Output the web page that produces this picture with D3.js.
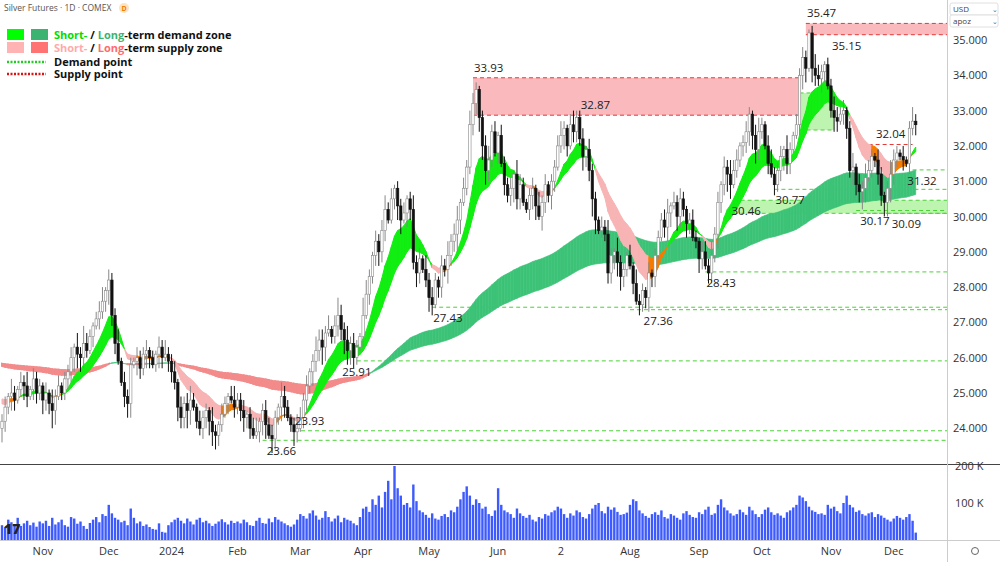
<!DOCTYPE html>
<html><head><meta charset="utf-8">
<script src="https://cdn.jsdelivr.net/npm/d3@7"></script>
<style>body{margin:0;background:#fff;font-family:"Open Sans",Roboto,sans-serif}</style>
</head><body><div id="chart"></div>
<script>
const width = 1000, height = 562;

// Month labels and daily closes per month (Oct 2023 - Dec 2024)
const monthLabels = ["", "Nov", "Dec", "2024", "Feb", "Mar", "Apr", "May", "Jun", "2", "Aug", "Sep", "Oct", "Nov", "Dec"];
const closes = [
  [24.2,24.6,24.9,25.0,24.8,25.1,25.3,25.2,24.9,25.1,25.4,25.0,25.2],
  [24.8,25.0,24.7,24.5,24.9,25.2,25.0,25.4,25.6,26.0,26.3,26.1,26.0,26.4,26.2,26.6,26.9,27.1,27.3,27.6,27.9],
  [28.2,27.2,26.4,25.9,25.3,24.9,24.7,25.8,25.9,26.0,25.7,26.1,26.2,26.0,25.8,26.1,26.3,26.0,26.1,25.9],
  [25.6,25.3,24.6,24.3,24.7,24.5,24.8,24.6,24.2,24.0,24.3,24.5,24.2,23.9,23.8,24.1,24.4,24.7,24.9,24.8,24.6],
  [24.8,24.5,24.3,24.4,24.0,23.8,23.9,24.2,24.5,24.1,23.8,23.7,24.3,24.6,24.9,24.6,24.3,24.1,23.9,24.0],
  [24.3,24.8,25.2,25.6,25.9,26.2,26.5,26.3,26.7,26.8,26.6,26.9,27.2,26.8,26.5,26.2,26.4,26.0,26.3,26.6],
  [27.2,27.8,28.3,28.9,29.3,29.0,29.6,30.2,29.9,30.5,30.8,30.3,29.9,30.1,30.5,30.2,28.7,28.4,28.8,28.5,28.2],
  [27.7,27.5,28.2,28.0,28.6,28.5,28.9,29.3,29.5,29.9,30.4,30.8,31.4,32.6,33.2,33.6,32.8,32.0,31.3,31.6,32.4,31.8],
  [32.3,31.5,30.9,30.6,30.8,31.2,30.5,30.9,30.4,30.2,30.6,30.8,30.3,30.0,30.4,30.9,30.6,31.0,31.4,32.0],
  [32.3,32.5,32.0,32.6,32.4,32.8,32.2,31.7,31.9,31.3,30.5,29.9,29.6,29.7,29.5,28.4,28.9,29.0,28.7,28.3,28.5,28.9],
  [28.6,28.1,27.6,27.5,27.9,27.7,28.4,28.3,28.9,29.4,29.9,29.7,30.1,30.3,30.4,30.0,30.5,30.2,29.8,29.9,29.4,29.3],
  [28.8,29.0,28.6,28.4,28.9,29.5,30.4,30.9,31.4,31.2,30.9,31.3,31.6,32.0,32.1,32.4,32.9,32.3,31.9,32.4],
  [32.6,32.0,31.5,31.2,30.9,31.3,31.7,31.9,31.5,31.9,32.3,32.6,34.0,34.5,34.2,35.2,34.2,34.0,33.9,34.1,34.3,33.7],
  [33.0,32.8,32.7,32.9,33.0,32.5,31.3,31.4,30.9,30.7,30.8,31.1,31.3,31.7,31.6,31.2,30.6,30.4,30.8,31.2],
  [31.6,31.8,31.7,31.6,31.5,32.5,32.7,32.6]
];
// Volume in thousands per month
const volumes = [
  [40,35,55,48,42,60,38,45,52,40,47,36,50],
  [45,52,38,60,42,48,55,40,36,62,58,44,50,38,30,46,55,62,48,70,65],
  [95,72,60,55,48,52,40,85,60,45,50,38,42,35,30,28,45,22,20,40],
  [48,55,60,52,45,58,50,42,55,60,48,52,45,38,44,50,56,48,42,52,46],
  [50,45,55,48,40,38,52,60,46,44,58,48,62,55,50,45,40,36,42,55],
  [70,65,58,72,80,66,55,60,78,62,50,58,66,48,60,55,52,45,40,62],
  [85,90,76,110,95,120,88,130,160,110,200,140,120,95,100,88,150,105,80,75,68],
  [60,72,58,55,65,70,62,80,75,90,110,130,145,120,95,110,100,85,90,70,65,80],
  [140,95,80,75,70,60,85,72,65,60,68,55,50,62,58,70,66,75,80,90],
  [85,70,60,72,66,80,75,62,58,70,85,95,100,78,72,90,82,88,76,68,70,74],
  [95,110,105,80,72,65,60,70,75,68,80,62,58,70,66,60,55,72,78,68,62,60],
  [75,70,82,90,68,72,95,110,88,80,72,66,70,82,75,68,90,80,70,62],
  [70,82,88,75,68,72,66,60,75,80,88,95,120,115,105,90,80,76,70,72,68,95],
  [85,90,78,72,100,120,95,88,76,80,70,66,72,75,62,70,66,60,55,50],
  [58,65,60,55,62,70,52,20]
];
// wick length per candle, tenths of a dollar
const wicks = "2314213241322131423122314253212341322413221322312132422313234213221421321342231234123232143212432312433241353242321542132342312231242314232132423413243212342313223143212314231223421342231322132421422131422131222341323212321332423132433123213421342231421323212432122432312413243213212432131242334221322";
const emaSeed = [24.8, 24.9, 25.8, 25.85];

// levels
const supplyZones = [{i0:150,i1:254,lo:32.87,hi:33.93},{i0:256,i1:null,lo:35.15,hi:35.47}];
const demandZones = [{i0:233,i1:null,lo:30.09,hi:30.46},{i0:254,i1:265,lo:32.45,hi:33.5}];
const demandLines = [{i:93,p:23.93},{i:83,p:23.66},{i:113,p:25.91},{i:137,p:27.43},{i:200,p:27.36},{i:224,p:28.43},{i:246,p:30.77},{i:272,p:30.17},{i:277,p:30.09},{i:290,p:31.32}];
const supplyLines = [{i:276,i1:290,p:32.04}];
const labels = [
  {t:"35.47",i:261,p:35.47,up:true},{t:"35.15",i:269,p:35.15,up:false},
  {t:"33.93",i:155,p:33.93,up:true},{t:"32.87",i:189,p:32.87,up:true},
  {t:"32.04",i:283,p:32.04,up:true},{t:"31.32",i:293,p:31.32,up:false},
  {t:"30.77",i:251,p:30.77,up:false},{t:"30.46",i:237,p:30.46,up:false},
  {t:"30.17",i:278,p:30.17,up:false},{t:"30.09",i:288,p:30.09,up:false},
  {t:"28.43",i:229,p:28.43,up:false},{t:"27.36",i:209,p:27.36,up:false},
  {t:"27.43",i:142,p:27.43,up:false},{t:"25.91",i:113,p:25.91,up:false},
  {t:"23.93",i:98,p:23.93,up:true},{t:"23.66",i:89,p:23.66,up:false}
];
const priceTicks = [24,25,26,27,28,29,30,31,32,33,34,35];

// flatten
const close = closes.flat(), vol = volumes.flat();
const monthStart = []; let acc = 0;
closes.forEach((m, k) => { monthStart.push(acc); acc += m.length; });
const n = close.length;
const candles = close.map((c, i) => {
  const o = i === 0 ? c - 0.2 : close[i - 1];
  const w = +(wicks[i] || 2) / 10;
  const w2 = +(wicks[(i * 7 + 3) % wicks.length]) / 10;
  return {i, o, c, h: Math.max(o, c) + w, l: Math.min(o, c) - w2, v: vol[i]};
});

function ema(period, seed) {
  const k = 2 / (period + 1); let e = seed;
  return close.map(c => (e = c * k + e * (1 - k)));
}
const e10 = ema(10, emaSeed[0]), e20 = ema(20, emaSeed[1]);
const eL1 = ema(100, emaSeed[2]), eL2 = ema(160, emaSeed[3]);

const plotR = 947;
const x = d3.scaleLinear().domain([0, n - 1]).range([2, 2 + (n - 1) * 3.14]);
const y = d3.scaleLinear().domain([24, 35]).range([428.3, 40]);
const yv = d3.scaleLinear().domain([0, 200]).range([540, 466]);

const svg = d3.select("#chart").append("svg").attr("width", width).attr("height", height)
  .style("font-family", "'Open Sans',Roboto,sans-serif");
svg.append("clipPath").attr("id", "pc").append("rect").attr("width", plotR).attr("height", 463);
const g = svg.append("g").attr("clip-path", "url(#pc)");

// zones
supplyZones.forEach(z => {
  const x0 = x(z.i0), x1 = z.i1 == null ? plotR : x(z.i1);
  g.append("rect").attr("x", x0).attr("y", y(z.hi)).attr("width", x1 - x0).attr("height", y(z.lo) - y(z.hi)).attr("fill", "#f9b9bd");
  [z.hi, z.lo].forEach(p => g.append("line").attr("x1", x0).attr("x2", x1).attr("y1", y(p)).attr("y2", y(p))
    .attr("stroke", "#e53935").attr("stroke-dasharray", "4,3"));
});
demandZones.forEach(z => {
  const x0 = x(z.i0), x1 = z.i1 == null ? plotR : x(z.i1);
  g.append("rect").attr("x", x0).attr("y", y(z.hi)).attr("width", x1 - x0).attr("height", y(z.lo) - y(z.hi)).attr("fill", "#bdf5b0");
  [z.hi, z.lo].forEach(p => g.append("line").attr("x1", x0).attr("x2", x1).attr("y1", y(p)).attr("y2", y(p))
    .attr("stroke", "#4cd137").attr("stroke-dasharray", "4,3"));
});
demandLines.forEach(d => g.append("line").attr("x1", x(d.i)).attr("x2", plotR).attr("y1", y(d.p)).attr("y2", y(d.p))
  .attr("stroke", "#4cd137").attr("stroke-dasharray", "4,3"));
supplyLines.forEach(d => g.append("line").attr("x1", x(d.i)).attr("x2", x(d.i1)).attr("y1", y(d.p)).attr("y2", y(d.p))
  .attr("stroke", "#e53935").attr("stroke-dasharray", "4,3"));

// ribbons
const seg = d3.area().x(d => x(d.i)).y0(d => y(d.a)).y1(d => y(d.b));
for (let i = 0; i < n - 1; i++) {
  const bull = eL1[i] > eL2[i];
  const col = bull ? "#3cc377" : "#f38b8b";
  g.append("path").attr("d", seg([{i, a: eL1[i], b: eL2[i]}, {i: i + 1, a: eL1[i + 1], b: eL2[i + 1]}]))
    .attr("fill", col).attr("stroke", col).attr("stroke-width", bull ? 0.6 : 2);
}
for (let i = 0; i < n - 1; i++) {
  let col;
  if (e10[i] > e20[i]) col = "#11ee11";
  else if ((i > 0 && e10[i] > e10[i - 1]) || close[i] > e20[i]) col = "#f57c00";
  else col = "#f8b4b4";
  g.append("path").attr("d", seg([{i, a: e10[i], b: e20[i]}, {i: i + 1, a: e10[i + 1], b: e20[i + 1]}]))
    .attr("fill", col).attr("stroke", col).attr("stroke-width", 1);
}

// candles
const cg = g.selectAll(".c").data(candles).enter().append("g");
cg.append("line").attr("x1", d => x(d.i)).attr("x2", d => x(d.i)).attr("y1", d => y(d.h)).attr("y2", d => y(d.l))
  .attr("stroke", d => d.c >= d.o ? "#888" : "#111");
cg.append("rect").attr("x", d => x(d.i) - 1.2).attr("width", 2.4)
  .attr("y", d => y(Math.max(d.o, d.c))).attr("height", d => Math.max(1, Math.abs(y(d.o) - y(d.c))))
  .attr("fill", d => d.c >= d.o ? "#fff" : "#111").attr("stroke", d => d.c >= d.o ? "#888" : "#111").attr("stroke-width", 0.6);

// labels
svg.selectAll(".lb").data(labels).enter().append("text")
  .attr("x", d => x(d.i)).attr("y", d => d.up ? y(d.p) - 6 : y(d.p) + 15)
  .attr("text-anchor", "middle").attr("font-size", 11.5).attr("fill", "#222").text(d => d.t);

// volume
svg.append("line").attr("x1", 0).attr("x2", 1000).attr("y1", 464.5).attr("y2", 464.5).attr("stroke", "#444");
svg.selectAll(".v").data(candles).enter().append("rect")
  .attr("x", d => x(d.i) - 1.2).attr("width", 2.4).attr("y", d => yv(d.v)).attr("height", d => yv(0) - yv(d.v))
  .attr("fill", "#3d5afe");
svg.append("line").attr("x1", 0).attr("x2", 1000).attr("y1", 540.5).attr("y2", 540.5).attr("stroke", "#ccc");
svg.append("line").attr("x1", plotR + 0.5).attr("x2", plotR + 0.5).attr("y1", 0).attr("y2", 562).attr("stroke", "#ccc");
[[100, "100 K"], [200, "200 K"]].forEach(([v, t]) => svg.append("text").attr("x", 955).attr("y", yv(v) + 4)
  .attr("font-size", 11).attr("fill", "#333").text(t));

// price axis
svg.selectAll(".pt").data(priceTicks).enter().append("text").attr("x", 953).attr("y", d => y(d) + 4)
  .attr("font-size", 11).attr("fill", "#333").text(d => d3.format(".3f")(d));
[["USD", 3], ["apoz", 15]].forEach(([t, yy]) => {
  svg.append("rect").attr("x", 950).attr("y", yy).attr("width", 48).attr("height", 12).attr("fill", "#fff").attr("stroke", "#e0e0e0").attr("rx", 2);
  svg.append("text").attr("x", 953).attr("y", yy + 9).attr("font-size", 8).attr("fill", "#444").text(t);
  svg.append("text").attr("x", 992).attr("y", yy + 9).attr("font-size", 7).attr("fill", "#666").text("⌄");
});

// time axis
svg.selectAll(".mt").data(monthLabels.map((t, k) => ({t, i: monthStart[k]})).filter(d => d.t)).enter().append("text")
  .attr("x", d => x(d.i)).attr("y", 555).attr("text-anchor", "middle").attr("font-size", 11).attr("fill", "#333").text(d => d.t);
svg.append("circle").attr("cx", 975).attr("cy", 551).attr("r", 3.5).attr("fill", "none").attr("stroke", "#666");
svg.append("text").attr("x", 4).attr("y", 534).attr("font-size", 14).attr("font-weight", 900).attr("fill", "#222").text("17");

// title + legend
svg.append("text").attr("x", 4).attr("y", 11).attr("font-size", 8.5).attr("fill", "#555").text("Silver Futures · 1D · COMEX");
svg.append("circle").attr("cx", 124).attr("cy", 8).attr("r", 5).attr("fill", "#fde3c0");
svg.append("text").attr("x", 124).attr("y", 10.5).attr("text-anchor", "middle").attr("font-size", 7).attr("font-weight", 700).attr("fill", "#f57c00").text("D");
const leg = svg.append("g").attr("font-size", 11).attr("font-weight", 700).attr("fill", "#111");
[["#00ff00", "#3cb371", 35], ["#ffb3b3", "#ff7373", 48]].forEach(([a, b, yy]) => {
  leg.append("rect").attr("x", 7).attr("y", yy - 6).attr("width", 17).attr("height", 11).attr("fill", a);
  leg.append("rect").attr("x", 31).attr("y", yy - 6).attr("width", 17).attr("height", 11).attr("fill", b);
});
const t1 = leg.append("text").attr("x", 54).attr("y", 39);
t1.append("tspan").attr("fill", "#00dd00").text("Short-");
t1.append("tspan").text(" / ");
t1.append("tspan").attr("fill", "#3cb371").text("Long");
t1.append("tspan").text("-term demand zone");
const t2 = leg.append("text").attr("x", 54).attr("y", 52);
t2.append("tspan").attr("fill", "#ffaaaa").text("Short-");
t2.append("tspan").text(" / ");
t2.append("tspan").attr("fill", "#ff6b6b").text("Long");
t2.append("tspan").text("-term supply zone");
[["#22cc22", 62, "Demand point"], ["#dd1111", 74, "Supply point"]].forEach(([c, yy, t]) => {
  leg.append("line").attr("x1", 7).attr("x2", 46).attr("y1", yy).attr("y2", yy).attr("stroke", c).attr("stroke-width", 2.5).attr("stroke-dasharray", "2,1.5");
  leg.append("text").attr("x", 54).attr("y", yy + 4).text(t);
});
</script></body></html>
